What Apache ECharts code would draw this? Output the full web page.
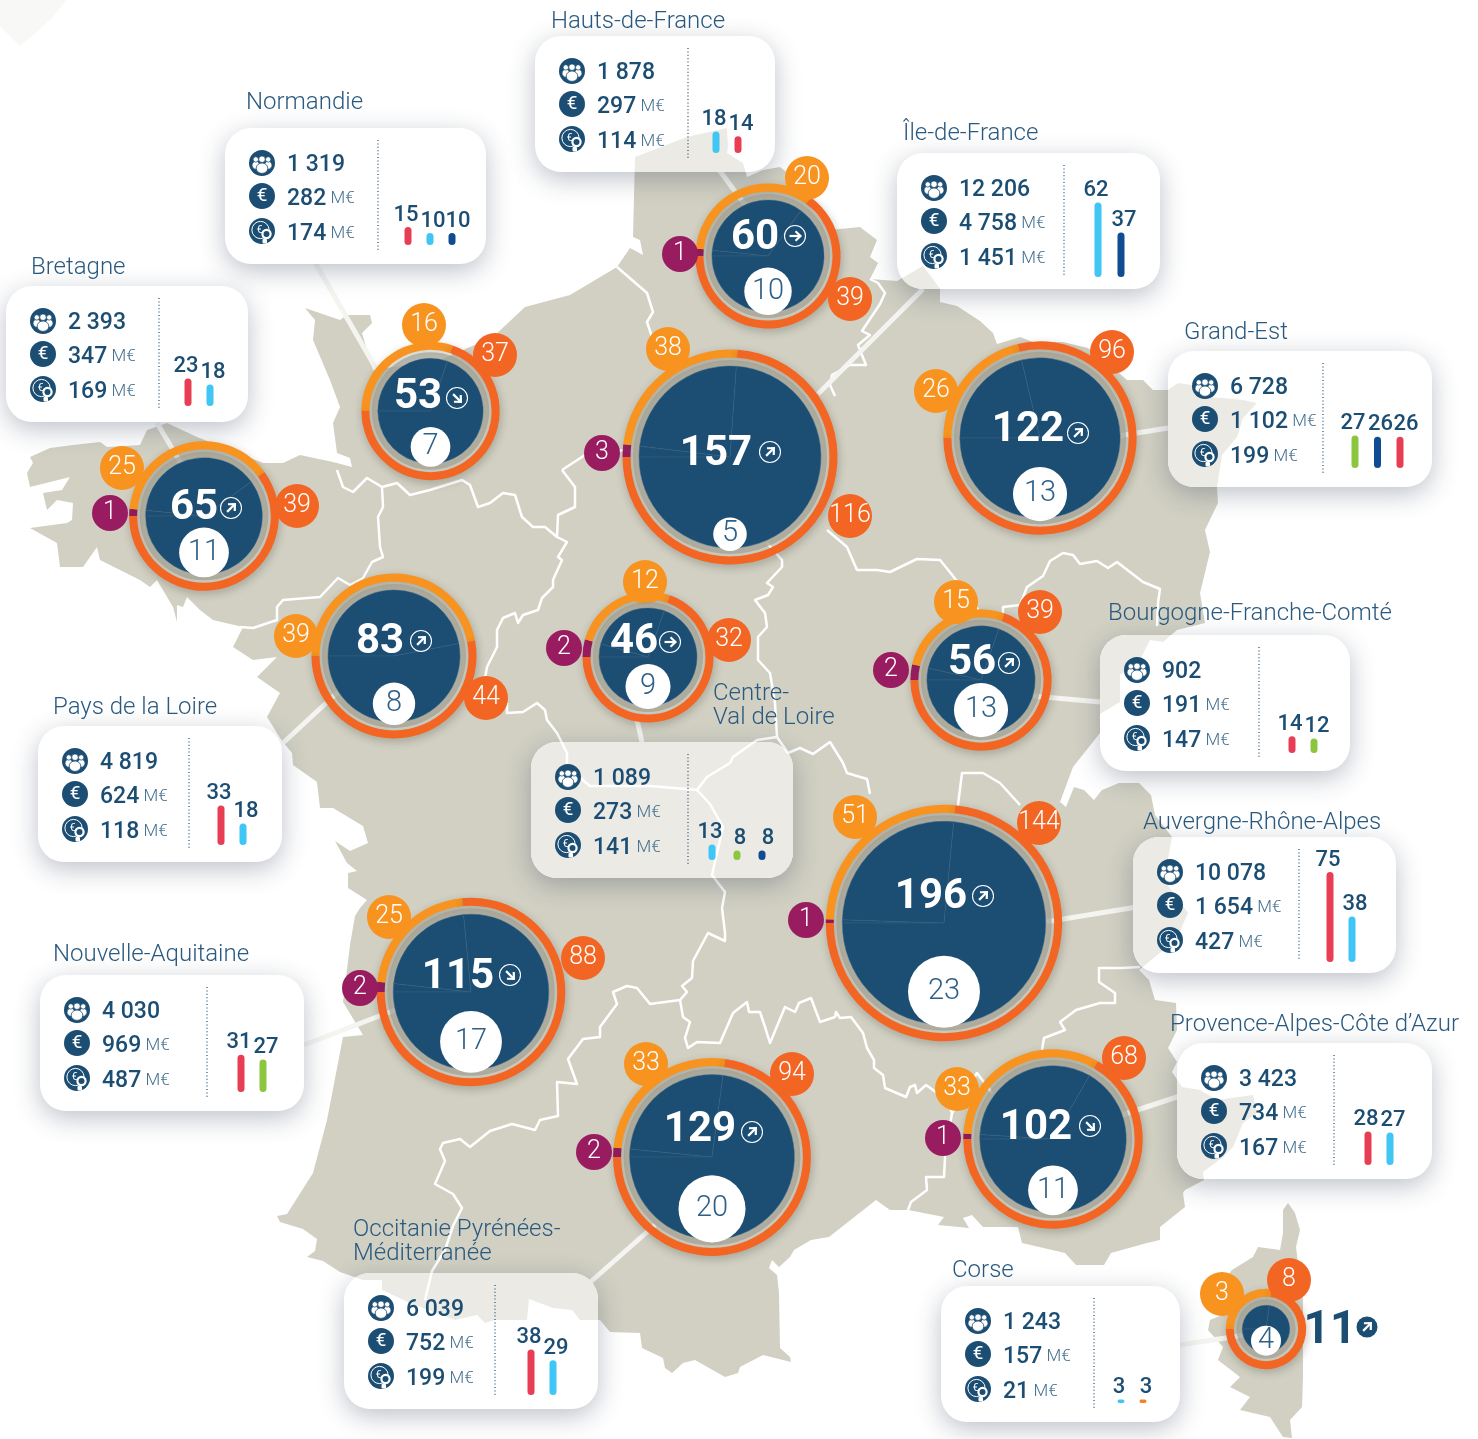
<!DOCTYPE html>
<html lang="fr">
<head>
<meta charset="utf-8">
<title>Carte des régions</title>
<style>
  html, body { margin: 0; padding: 0; background: #fff; }
  #chart { width: 1478px; height: 1439px; }
</style>
<script src="https://cdn.jsdelivr.net/npm/echarts@6/dist/echarts.min.js"></script>
</head>
<body>
<div id="chart"></div>
<script>
const regions = ["Normandie", "Hauts-de-France", "Île-de-France", "Bretagne", "Grand-Est", "Bourgogne-Franche-Comté", "Pays de la Loire", "Centre-\nVal de Loire", "Auvergne-Rhône-Alpes", "Nouvelle-Aquitaine", "Provence-Alpes-Côte d’Azur", "Occitanie Pyrénées-\nMéditerranée", "Corse"];
const totals = [53, 60, 157, 65, 122, 56, 83, 46, 196, 115, 102, 129, 11];
const purpleCounts = [0, 1, 3, 1, 0, 2, 0, 2, 1, 2, 1, 2, 0];
const lightCounts = [16, 20, 38, 25, 26, 15, 39, 12, 51, 25, 33, 33, 3];
const deepCounts = [37, 39, 116, 39, 96, 39, 44, 32, 144, 88, 68, 94, 8];
const whiteCounts = [7, 10, 5, 11, 13, 13, 8, 9, 23, 17, 11, 20, 4];
const trends = ["down", "flat", "up", "up", "up", "up", "up", "flat", "up", "down", "down", "up", "up"];
const people = [1319, 1878, 12206, 2393, 6728, 902, 4819, 1089, 10078, 4030, 3423, 6039, 1243];
const budgets = [282, 297, 4758, 347, 1102, 191, 624, 273, 1654, 969, 734, 752, 157];
const aids = [174, 114, 1451, 169, 199, 147, 118, 141, 427, 487, 167, 199, 21];
const barValues = [[15, 10, 10], [18, 14], [62, 37], [23, 18], [27, 26, 26], [14, 12], [33, 18], [13, 8, 8], [75, 38], [31, 27], [28, 27], [38, 29], [3, 3]];
const barKinds = [["red", "cyan", "navy"], ["cyan", "red"], ["cyan", "navy"], ["red", "cyan"], ["green", "navy", "red"], ["red", "green"], ["red", "cyan"], ["cyan", "green", "navy"], ["red", "cyan"], ["red", "green"], ["red", "cyan"], ["red", "cyan"], ["cyan", "orange"]];

// mise en page (pixels de la page), même ordre que regions
const discs = [[430.5, 411], [768, 256], [730, 457], [204, 516], [1040, 438], [981, 680], [394, 656], [648, 657], [944, 923], [471, 992], [1053, 1139], [712, 1157], [1266, 1329]];
const cards = [[225, 128, 261], [535, 36, 240], [897, 153, 263], [6, 286, 242], [1168, 351, 264], [1100, 635, 250], [38, 726, 244], [531, 742, 262], [1133, 837, 263], [40, 975, 264], [1177, 1043, 255], [344, 1273, 254], [941, 1286, 239]];
const dividers = [153, 153, 167, 153, 155, 159, 151, 157, 166, 167, 157, 151, 153];
const barsLeft = [408, 716, 1098, 188, 1355, 1292, 221, 712, 1330, 241, 1368, 531, 1121];
const barsStep = [22, 22, 23, 22, 22.5, 22, 22, 25, 22, 22, 22, 22, 22];
const barsFoot = [245, 153, 277, 406, 468, 753, 845, 860, 962, 1092, 1165, 1395, 1403];
const labelShift = [-2, 3, 6];
const namePos = [[246, 103], [551, 22], [903, 134], [31, 268], [1184, 333], [1108, 614], [53, 708], [713, 706], [1143, 823], [53, 955], [1170, 1025], [353, 1242], [952, 1271]];
const lightPos = [[424, 322], [807, 175], [668, 346], [122, 465], [936, 388], [956, 599], [296, 633], [645, 579], [855, 814], [389, 914], [957, 1086], [646, 1061], [1222, 1291]];
const deepPos = [[495, 352], [850, 296], [850, 513], [297, 503], [1112, 349], [1040, 609], [486, 695], [729, 637], [1039, 820], [583, 955], [1124, 1055], [792, 1071], [1289, 1277]];
const purplePos = [null, [680, 251], [602, 450], [110, 510], null, [891, 667], null, [564, 645], [806, 917], [360, 985], [943, 1135], [594, 1149], null];
const totalPos = [[418, 394], [755, 235], [716, 451], [194, 505], [1028, 427], [972, 660], [380, 639], [634, 639], [931, 894], [458, 974], [1036, 1125], [700, 1127], [1330, 1328]];
const arrowPos = [[457, 398], [795, 236], [770, 452], [231, 508], [1078, 433], [1009, 663], [421, 641], [670, 642], [983, 896], [510, 975], [1090, 1126], [752, 1132], [1367, 1327]];
const leaders = [[[305, 245], [378, 372]], [[717, 167], [745, 205]], [[923, 289], [818, 394]], [[157, 423], [182, 465]], [[1168, 428], [1118, 436]], [[1100, 702], [1033, 696]], [[283, 743], [338, 692]], [[642, 742], [637, 720]], [[1137, 907], [1045, 922]], [[304, 1045], [395, 1010]], [[1183, 1095], [1122, 1115]], [[587, 1285], [655, 1225]], [[1180, 1345], [1245, 1335]]];

// fond de carte, tracé à la main
const france = [[635,157],[687,137],[727,128],[728,147],[727,153],[743,163],[747,177],[763,170],[780,167],[797,180],[807,203],[830,230],[860,227],[877,240],[870,257],[878,263],[870,279],[897,281],[923,266],[933,279],[940,289],[940,302],[957,306],[980,321],[993,333],[997,344],[1020,337],[1033,342],[1063,342],[1088,348],[1110,365],[1127,380],[1143,380],[1153,390],[1168,390],[1178,383],[1192,385],[1200,397],[1223,398],[1243,400],[1257,403],[1243,418],[1237,437],[1222,455],[1217,487],[1218,503],[1205,530],[1210,552],[1200,593],[1205,623],[1177,630],[1163,642],[1150,640],[1140,660],[1120,675],[1120,702],[1100,714],[1100,733],[1073,767],[1060,802],[1066,807],[1074,787],[1084,790],[1094,800],[1102,790],[1119,783],[1139,783],[1151,795],[1155,815],[1172,837],[1164,880],[1188,913],[1176,940],[1151,960],[1139,970],[1149,980],[1155,1000],[1176,1003],[1177,1030],[1168,1048],[1177,1062],[1172,1072],[1182,1087],[1200,1090],[1217,1100],[1253,1095],[1257,1113],[1243,1123],[1233,1147],[1223,1157],[1203,1172],[1204,1180],[1185,1190],[1183,1193],[1185,1207],[1160,1227],[1160,1240],[1147,1243],[1111,1253],[1104,1265],[1076,1265],[1065,1253],[1022,1243],[1018,1227],[983,1227],[972,1215],[963,1218],[969,1228],[938,1225],[944,1217],[908,1210],[890,1210],[876,1200],[829,1237],[811,1240],[794,1250],[790,1257],[779,1267],[772,1260],[769,1268],[777,1275],[779,1293],[780,1348],[790,1357],[791,1362],[763,1355],[740,1367],[738,1373],[725,1377],[695,1360],[683,1363],[672,1373],[665,1368],[663,1358],[642,1348],[640,1333],[610,1332],[600,1320],[580,1320],[572,1310],[553,1308],[529,1299],[527,1320],[495,1320],[485,1323],[477,1315],[455,1320],[410,1303],[382,1290],[382,1280],[363,1280],[340,1272],[323,1261],[307,1257],[315,1251],[317,1239],[303,1229],[280,1222],[277,1216],[287,1214],[313,1173],[327,1120],[343,1037],[363,1035],[343,1002],[350,945],[355,916],[360,908],[367,900],[348,888],[348,873],[357,871],[347,863],[335,841],[350,851],[368,843],[363,826],[333,808],[320,808],[317,782],[293,765],[292,753],[282,741],[267,717],[280,693],[257,677],[277,657],[253,660],[233,647],[240,633],[243,627],[213,620],[200,610],[187,597],[183,607],[177,605],[177,622],[173,607],[157,580],[150,587],[140,580],[100,560],[97,547],[83,567],[60,567],[57,543],[30,528],[67,523],[72,520],[73,503],[57,500],[47,510],[43,493],[62,490],[70,477],[30,487],[27,473],[33,463],[30,457],[50,448],[73,445],[100,442],[107,447],[140,445],[147,430],[167,423],[197,437],[263,463],[283,463],[300,455],[333,462],[352,467],[350,458],[337,453],[333,423],[340,407],[330,380],[313,340],[315,320],[305,308],[340,320],[347,315],[370,315],[372,323],[362,333],[373,370],[440,360],[493,337],[525,307],[570,295],[617,267],[630,248],[643,255],[640,240],[633,237]];
const corsica = [[1288,1203],[1295,1213],[1300,1230],[1296,1247],[1298,1263],[1303,1300],[1303,1377],[1302,1407],[1290,1420],[1292,1438],[1283,1437],[1270,1417],[1240,1410],[1250,1397],[1230,1387],[1240,1377],[1218,1360],[1223,1347],[1208,1330],[1210,1320],[1227,1313],[1208,1300],[1232,1270],[1253,1257],[1258,1247],[1280,1250],[1283,1233],[1283,1210]];
const borders = [
  [[337,470],[343,487],[353,492],[367,478],[382,487],[397,483],[410,495],[430,490],[462,480],[470,485],[478,507],[490,503],[503,493],[515,495],[522,517],[533,527],[545,527],[557,537],[567,542],[558,557],[562,560],[553,580],[553,587],[542,598],[538,610],[523,615],[518,623],[515,613],[503,618],[497,630],[497,647],[487,667],[483,690]],
  [[382,487],[383,507],[378,517],[380,547],[383,557],[372,562],[363,578],[350,585],[338,578],[320,597],[283,600],[277,607],[277,620],[253,628],[240,627]],
  [[507,703],[507,713],[523,712],[537,703],[545,710],[547,720],[557,733],[567,753],[567,767],[590,786],[650,786],[697,790],[710,804],[723,827],[712,875],[725,892],[722,908],[725,933],[725,941],[708,933],[693,961],[692,978],[682,986],[687,992],[680,1000],[650,1004],[637,988],[627,986],[613,992],[617,1004],[600,1027],[600,1037],[583,1039],[568,1059],[577,1084],[557,1082],[558,1116],[540,1120],[535,1130],[512,1124],[490,1131],[470,1147],[460,1139],[443,1143],[440,1149],[445,1161],[435,1184],[453,1194],[462,1208],[453,1226],[445,1250],[432,1271],[425,1300]],
  [[680,1000],[683,1017],[690,1022],[685,1038],[688,1048],[697,1042],[720,1043],[733,1013],[747,1002],[749,1012],[760,1012],[765,1027],[770,1043],[785,1007],[795,1012],[799,1003],[811,998],[820,1022],[835,1017],[836,1012],[840,1018],[851,1017],[863,1033],[867,1048],[874,1060],[874,1068],[883,1075],[885,1088],[906,1097],[910,1087],[915,1085],[917,1093],[926,1085],[947,1100],[952,1113],[945,1157],[944,1177],[926,1177],[927,1190],[911,1202],[908,1210]],
  [[952,1113],[977,1073],[992,1093]],
  [[1042,1050],[1044,1038],[1065,1030],[1060,1022],[1076,1010],[1100,1003],[1115,1003],[1115,993],[1099,982],[1099,968],[1122,968],[1140,967]],
  [[697,790],[707,777],[730,763],[733,757],[757,740],[777,737],[788,753],[800,748],[813,754],[830,742],[843,763],[847,773],[867,779],[870,794]],
  [[957,813],[962,773],[983,773],[1000,783],[1020,805]],
  [[767,543],[782,560],[782,567],[767,583],[773,587],[768,595],[755,600],[765,613],[767,627],[758,637],[758,660],[770,673],[775,703],[777,737]],
  [[827,530],[847,547],[857,570],[877,570],[890,572],[917,559],[940,560],[953,576],[980,612]],
  [[1003,615],[1003,607],[1020,605],[1027,587],[1043,576],[1050,561],[1063,553],[1073,555],[1080,564],[1097,561],[1108,568],[1117,562],[1143,582],[1160,589],[1158,603],[1157,626]],
  [[870,279],[878,283],[885,293],[880,304],[862,331],[870,335],[858,345],[866,365],[850,365],[832,375],[830,385],[835,396]],
  [[617,267],[647,293],[653,312],[647,322],[653,340]],
  [[562,470],[575,487],[575,507],[558,515],[557,537]],
  [[562,470],[585,455],[625,450]]
];

const NAVY = "#1c4d73";
const NAME_COLOR = "#2a5a80";
const UNIT_COLOR = "#44708f";
const MAP_COLOR = "#d1d0c3";
const VEIL_COLOR = "#ebeae4";
const LIGHT = "#f7931e";
const DEEP = "#f26522";
const PURPLE = "#9a1c60";
const FONT = "Roboto, 'Noto Sans', sans-serif";
const CARD_H = 136;
const kindColor = { red: "#e83e55", cyan: "#3fc6f5", navy: "#0f4c92", green: "#8cc63f", orange: "#f58220" };
const arrowTurn = { up: Math.PI / 4, flat: 0, down: -Math.PI / 4 };

const fmt = (v) => String(v).replace(/\B(?=(\d{3})+$)/g, " ");
const ringRadius = (v) => 16 + 7.3 * Math.sqrt(v);
const whiteRadius = (v) => 7.5 * Math.sqrt(v);
const discRadius = (v) => ringRadius(v) - 16.5;

const myChart = echarts.init(document.getElementById("chart"));
const graphics = [];
const add = (z, el) => graphics.push({ silent: true, z, ...el });

// fond
add(0, { type: "polygon", shape: { points: [[0, 0], [66, 0], [52, 18], [34, 34], [20, 46], [0, 26]] }, style: { fill: "#f8f8f7" } });
add(1, { type: "polygon", shape: { points: france }, style: { fill: MAP_COLOR } });
add(1, { type: "polygon", shape: { points: corsica }, style: { fill: MAP_COLOR } });
borders.forEach((pts) => {
  add(1, { type: "polyline", shape: { points: pts }, style: { stroke: "#fff", lineWidth: 2.5, fill: null, lineJoin: "round" } });
});
leaders.forEach((pts) => {
  add(2, { type: "polyline", shape: { points: pts }, style: { stroke: "#f4f4f0", lineWidth: 5, fill: null } });
});

const iconPeople = (x, y) => {
  add(5, { type: "circle", shape: { cx: x, cy: y, r: 13 }, style: { fill: NAVY } });
  [[-6.2, 2.2, 3.8, 4], [6.2, 2.2, 3.8, 4], [0, 5.2, 5.8, 5.2]].forEach(([dx, dy, rx, ry]) => {
    add(5, { type: "ellipse", shape: { cx: x + dx, cy: y + dy, rx, ry }, style: { fill: "#fff", stroke: NAVY, lineWidth: 0.8 } });
  });
  [[-6.2, -3.6, 2.7], [6.2, -3.6, 2.7], [0, -3.8, 3.3]].forEach(([dx, dy, r]) => {
    add(5, { type: "circle", shape: { cx: x + dx, cy: y + dy, r }, style: { fill: "#fff", stroke: NAVY, lineWidth: 0.8 } });
  });
};
const iconEuro = (x, y) => {
  add(5, { type: "circle", shape: { cx: x, cy: y, r: 13 }, style: { fill: NAVY } });
  add(5, { type: "text", style: { text: "€", x, y: y + 0.5, fill: "#fff", font: `400 19px ${FONT}`, textAlign: "center", textVerticalAlign: "middle" } });
};
const iconCoin = (x, y) => {
  add(5, { type: "circle", shape: { cx: x, cy: y, r: 13 }, style: { fill: NAVY } });
  add(5, { type: "circle", shape: { cx: x - 1.5, cy: y - 1, r: 8.6 }, style: { fill: null, stroke: "#fff", lineWidth: 1 } });
  add(5, { type: "text", style: { text: "€", x: x - 2.5, y: y - 1, fill: "#fff", font: `400 10px ${FONT}`, textAlign: "center", textVerticalAlign: "middle" } });
  add(5, { type: "circle", shape: { cx: x + 4.5, cy: y + 3, r: 5.2 }, style: { fill: "#fff" } });
  add(5, { type: "circle", shape: { cx: x + 4.5, cy: y + 3, r: 3 }, style: { fill: NAVY } });
  add(5, { type: "rect", shape: { x: x + 0.5, y: y + 8, width: 4.5, height: 4.5, r: 1 }, style: { fill: "#fff" } });
};

regions.forEach((name, i) => {
  const [cx, cy, w] = cards[i];
  // carte : le blanc opaque porte l'ombre, la série custom remet la carte dessous en pâle
  add(3, { type: "rect", shape: { x: cx, y: cy, width: w, height: CARD_H, r: 26 }, style: { fill: "#fff", shadowBlur: 26, shadowOffsetY: 7, shadowColor: "rgba(35,50,75,0.3)" } });
  const [nx, ny] = namePos[i];
  add(2, { type: "text", style: { text: name, x: nx, y: ny, fill: NAME_COLOR, font: `300 24px ${FONT}`, lineHeight: 24, textVerticalAlign: "middle" } });

  iconPeople(cx + 37, cy + 35);
  iconEuro(cx + 37, cy + 68);
  iconCoin(cx + 37, cy + 103);
  const rows = [[fmt(people[i]), 37, ""], [fmt(budgets[i]), 71, "M€"], [fmt(aids[i]), 106, "M€"]];
  rows.forEach(([txt, dy, unit]) => {
    add(5, {
      type: "text",
      style: {
        text: unit ? `{n|${txt}} {u|${unit}}` : `{n|${txt}}`,
        x: cx + 62,
        y: cy + dy,
        textVerticalAlign: "middle",
        rich: {
          n: { fill: NAVY, font: `500 23px ${FONT}` },
          u: { fill: UNIT_COLOR, font: `300 17px ${FONT}`, padding: [0, 0, 0, 1] }
        }
      }
    });
  });
  add(5, {
    type: "polyline",
    shape: { points: [[cx + dividers[i], cy + 12], [cx + dividers[i], cy + CARD_H - 12]] },
    style: { stroke: NAVY, lineWidth: 1.2, lineDash: [1, 2.4], fill: null }
  });

  // flèche de tendance
  const [ax, ay] = arrowPos[i];
  const corse = i === regions.length - 1;
  add(11, { type: "circle", shape: { cx: ax, cy: ay, r: 10.5 }, style: corse ? { fill: NAVY } : { fill: null, stroke: "#fff", lineWidth: 1.1 } });
  const arrowPts = [[[-5.5, 0], [5, 0]], [[0.5, -4.8], [5.5, 0], [0.5, 4.8]]];
  arrowPts.forEach((pts) => {
    add(11, { type: "polyline", x: ax, y: ay, rotation: arrowTurn[trends[i]], shape: { points: pts }, style: { stroke: "#fff", lineWidth: 2.2, fill: null } });
  });
});

// grille pleine page : axe y décalé de 3 px pour retomber sur les positions relevées
const grids = [{ left: 0, top: 3, width: 1478, height: 1439, outerBoundsMode: "none" }];
const xAxes = [{ type: "value", min: 0, max: 1478, show: false, gridIndex: 0 }];
const yAxes = [{ type: "value", min: 0, max: 1439, inverse: true, show: false, gridIndex: 0 }];
const series = [];

// carte pâle vue à travers les cartouches
series.push({
  type: "custom",
  coordinateSystem: "none",
  silent: true,
  z: 4,
  data: cards.map((c, i) => [i]),
  renderItem: (params) => {
    const [x, y, width] = cards[params.dataIndex];
    const lines = borders.map((pts) => ({
      type: "polyline",
      shape: { points: pts },
      style: { stroke: "#fff", lineWidth: 2.5, fill: null, lineJoin: "round" }
    }));
    return {
      type: "group",
      clipPath: { type: "rect", shape: { x, y, width, height: CARD_H, r: 26 } },
      children: [{ type: "polygon", shape: { points: france }, style: { fill: VEIL_COLOR } }, ...lines]
    };
  }
});

// petits histogrammes, une grille par cartouche
barValues.forEach((vals, i) => {
  const step = barsStep[i];
  const index = grids.length;
  grids.push({ left: barsLeft[i] - step / 2, top: barsFoot[i] - 120, width: step * vals.length, height: 120, outerBoundsMode: "none" });
  xAxes.push({ type: "category", gridIndex: index, data: barKinds[i], show: false });
  yAxes.push({ type: "value", gridIndex: index, min: 0, max: 100, show: false });
  series.push({
    type: "bar",
    xAxisIndex: index,
    yAxisIndex: index,
    silent: true,
    z: 6,
    barWidth: 7,
    data: vals.map((v, k) => ({
      value: v,
      itemStyle: { color: kindColor[barKinds[i][k]], borderRadius: 3.5 },
      label: { offset: [labelShift[k], 0] }
    })),
    label: { show: true, position: "top", distance: 1, color: NAVY, fontFamily: FONT, fontSize: 22, fontWeight: 500 }
  });
});

// anneaux
regions.forEach((name, i) => {
  const R = ringRadius(totals[i]);
  const Rn = discRadius(totals[i]);
  const parts = [purpleCounts[i], lightCounts[i], deepCounts[i]];
  const base = { type: "pie", center: discs[i], silent: true, startAngle: 180, clockwise: true, animation: false, label: { show: false }, labelLine: { show: false }, emphasis: { disabled: true }, percentPrecision: 4 };
  series.push({
    ...base,
    z: 7,
    radius: [R - 8, R],
    data: parts.map((v, k) => ({ value: v, itemStyle: { color: [PURPLE, LIGHT, DEEP][k], shadowBlur: 9, shadowOffsetY: 3, shadowOffsetX: 1, shadowColor: "rgba(40,40,30,0.28)" } }))
  });
  series.push({
    ...base,
    z: 8,
    radius: [Rn, Rn + 6],
    data: [{ value: totals[i], itemStyle: { color: "rgba(158,157,142,0.7)" } }]
  });
  series.push({
    ...base,
    z: 9,
    radius: [0, Rn],
    data: parts.map((v) => ({ value: v, itemStyle: { color: NAVY, borderColor: "#35607f", borderWidth: 0.5 } }))
  });
});

// cercle blanc, pastilles et totaux sur la grille pleine page
const pixelSeries = { type: "scatter", xAxisIndex: 0, yAxisIndex: 0, silent: true, clip: false };
series.push({
  ...pixelSeries,
  z: 10,
  data: whiteCounts.map((v, i) => [discs[i][0], discs[i][1] + discRadius(totals[i]) - whiteRadius(v), v]),
  symbolSize: (val) => 2 * whiteRadius(val[2]),
  itemStyle: { color: "#fff", opacity: 1 },
  label: { show: true, position: "inside", formatter: (p) => p.value[2], color: "#2e5f87", fontFamily: FONT, fontSize: 29, fontWeight: 300 }
});
const badges = (pos, counts, color, size, z) => ({
  ...pixelSeries,
  z,
  data: counts.map((v, i) => (pos[i] ? [pos[i][0], pos[i][1], v] : null)).filter(Boolean),
  symbolSize: size,
  itemStyle: { color, opacity: 1 },
  label: { show: true, position: "inside", formatter: (p) => p.value[2], color: "#fff", fontFamily: FONT, fontSize: 25, fontWeight: 300 }
});
series.push(badges(lightPos, lightCounts, LIGHT, 44, 7));
series.push(badges(deepPos, deepCounts, DEEP, 44, 7));
series.push(badges(purplePos, purpleCounts, PURPLE, 36, 7));
series.push({
  ...pixelSeries,
  z: 11,
  data: totals.map((v, i) => ({
    value: [totalPos[i][0], totalPos[i][1], v],
    label: i === totals.length - 1 ? { color: NAVY, fontSize: 46 } : {}
  })),
  symbolSize: 1,
  itemStyle: { color: "transparent", opacity: 1 },
  label: { show: true, position: "inside", formatter: (p) => p.value[2], color: "#fff", fontFamily: FONT, fontSize: 42, fontWeight: 700 }
});

myChart.setOption({
  animation: false,
  backgroundColor: "#fff",
  tooltip: { show: false },
  grid: grids,
  xAxis: xAxes,
  yAxis: yAxes,
  graphic: { elements: graphics },
  series
});
</script>
</body>
</html>
